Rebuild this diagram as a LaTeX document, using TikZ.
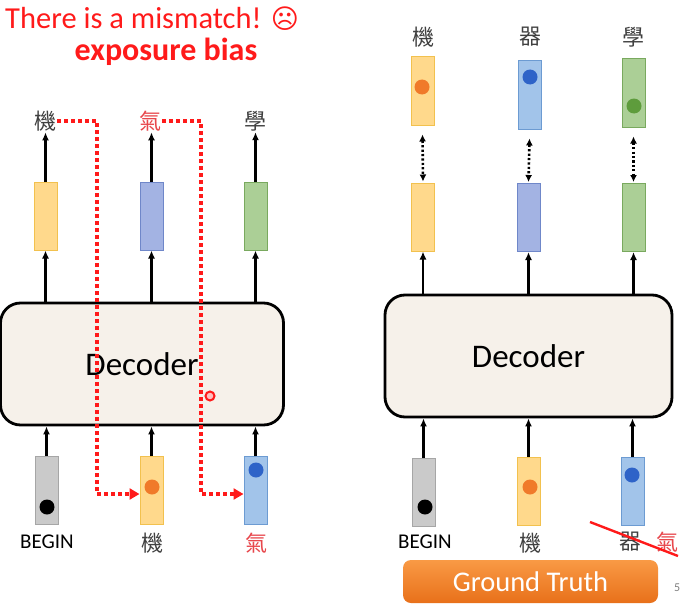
\documentclass[tikz,border=0pt]{standalone}
\usepackage{fontspec}
\setmainfont{Carlito}
\newfontfamily\cjk{Noto Sans CJK TC}
\newfontfamily\djv{DejaVu Sans}
\usetikzlibrary{arrows.meta,shadings}
\definecolor{yfill}{HTML}{FFD98C}
\definecolor{ydraw}{HTML}{F2C14E}
\definecolor{bfill}{HTML}{A3B3E3}
\definecolor{bdraw}{HTML}{6F87C9}
\definecolor{lbfill}{HTML}{A2C4EA}
\definecolor{lbdraw}{HTML}{6C9BD2}
\definecolor{gfill}{HTML}{ABCF96}
\definecolor{gdraw}{HTML}{79A95E}
\definecolor{grfill}{HTML}{CACACA}
\definecolor{grdraw}{HTML}{A6A6A6}
\definecolor{decfill}{HTML}{F6F1EA}
\definecolor{lred}{HTML}{FF1A1A}
\definecolor{cjkred}{HTML}{E8474C}
\definecolor{txtgray}{HTML}{404040}
\definecolor{dotor}{HTML}{F07A2A}
\definecolor{dotbl}{HTML}{2E63C8}
\definecolor{dotgr}{HTML}{5E9C3C}
\definecolor{gttop}{HTML}{F99A45}
\definecolor{gtbot}{HTML}{E8701A}
\tikzset{
  vec/.style={draw, line width=1pt, minimum width=23pt, minimum height=68pt, inner sep=0pt},
  ybox/.style={vec, fill=yfill, draw=ydraw},
  bbox/.style={vec, fill=bfill, draw=bdraw},
  lbbox/.style={vec, fill=lbfill, draw=lbdraw},
  gbox/.style={vec, fill=gfill, draw=gdraw},
  graybox/.style={vec, fill=grfill, draw=grdraw},
  dec/.style={draw=black, line width=2.8pt, fill=decfill, rounded corners=20pt, inner sep=0pt, font=\fontsize{33}{36}\selectfont},
  arr/.style={line width=2.4pt, -{Latex[length=8pt,width=7pt]}},
  dblarr/.style={line width=2.6pt, dash pattern=on 2.2pt off 2.2pt, {Latex[length=7pt,width=7pt]}-{Latex[length=7pt,width=7pt]}},
  reddot/.style={draw=lred, line width=3.6pt, dash pattern=on 3.6pt off 3.4pt, -{Triangle[length=10pt,width=11pt]}},
  zh/.style={font=\cjk\fontsize{22}{24}\selectfont, text=txtgray, inner sep=1pt},
  zhred/.style={zh, text=cjkred},
  beg/.style={font=\fontsize{21}{24}\selectfont, text=black, inner sep=1pt},
  ball/.style={circle, minimum size=15pt, inner sep=0pt},
  gtbox/.style={rounded corners=8pt, top color=gttop, bottom color=gtbot, draw=none, minimum width=255pt, minimum height=43pt, text=white, font=\fontsize{28.5}{32}\selectfont},
}
\begin{document}
\begin{tikzpicture}[x=1pt,y=-1pt]
\useasboundingbox (0,0) rectangle (680,610);
\fill[white] (0,0) rectangle (680,610);

% titles
\node[anchor=west, text=lred, font=\fontsize{30.5}{34}\selectfont, inner sep=0pt] (title) at (5,19) {There is a mismatch! {\djv\fontsize{27}{30}\selectfont ☹}};
\node[text=lred, font=\bfseries\fontsize{32}{34}\selectfont, inner sep=0pt] (bias) at (166,52) {exposure bias};

% ===== LEFT =====
\node[dec, minimum width=283pt, minimum height=122pt] (decL) at (142,364) {Decoder};

\node[ybox] (oL1) at (45.5,216) {};
\node[bbox] (oL2) at (151.5,216) {};
\node[gbox] (oL3) at (255.5,216) {};

\node[zh] (tL1) at (45,121) {機};
\node[zhred] (tL2) at (150,121) {氣};
\node[zh] (tL3) at (255,121) {學};

\node[graybox] (iL1) at (46.5,490.5) {};
\node[ybox] (iL2) at (151.5,490.5) {};
\node[lbbox] (iL3) at (255.5,490.5) {};

\node[ball, fill=black] (kL1) at (47,507) {};
\node[ball, fill=dotor] (kL2) at (152,487) {};
\node[ball, fill=dotbl] (kL3) at (256,470) {};

\node[beg] (bL1) at (47,542) {BEGIN};
\node[zh] (bL2) at (152,543) {機};
\node[zhred] (bL3) at (256,543) {氣};

\foreach \i in {1,2,3}{
  \draw[arr] (oL\i.north) -- (oL\i.north |- tL\i.south);
  \draw[arr] (decL.north -| oL\i.north) -- (oL\i.south);
  \draw[arr] (iL\i.north) -- (decL.south -| iL\i.north);
}

\coordinate (r1) at (97,0);
\coordinate (r2) at (201,0);
\draw[reddot] (tL1.east) -| (r1 |- 0,494) -- (iL2.west |- 0,494);
\draw[reddot] (tL2.east) -| (r2 |- 0,494) -- (iL3.west |- 0,494);

% laser pointer mark
\node[circle, draw=lred, line width=2pt, minimum size=9pt, inner sep=0pt, fill=red!25] (laser) at (210,396) {};

% ===== RIGHT =====
\node[dec, minimum width=287pt, minimum height=122pt] (decR) at (528.5,356) {Decoder};

\node[zh] (tR1) at (423,37) {機};
\node[zh] (tR2) at (530,37) {器};
\node[zh] (tR3) at (633,37) {學};

\node[ybox] (pR1) at (422.5,91) {};
\node[lbbox] (pR2) at (529.5,95) {};
\node[gbox] (pR3) at (633.5,93) {};
\node[ball, fill=dotor] at (422,87) {};
\node[ball, fill=dotbl] at (530,77) {};
\node[ball, fill=dotgr] at (634,106) {};

\node[ybox] (oR1) at (423,217) {};
\node[bbox] (oR2) at (528.5,217.5) {};
\node[gbox] (oR3) at (633.5,217.5) {};

\foreach \i in {1,2,3}{
  \draw[dblarr] ([yshift=-9pt]pR\i.south) -- ([yshift=1pt]oR\i.north);
  \draw[arr] (decR.north -| oR\i.north) -- (oR\i.south);
}

\node[graybox] (iR1) at (423.5,492) {};
\node[ybox] (iR2) at (528.5,491) {};
\node[lbbox] (iR3) at (632.5,491) {};
\node[ball, fill=black] at (425,507) {};
\node[ball, fill=dotor] at (530,487) {};
\node[ball, fill=dotbl] at (632,475) {};

\foreach \i in {1,2,3}{
  \draw[arr] (iR\i.north) -- (decR.south -| iR\i.north);
}

\node[beg] (bR1) at (425,542) {BEGIN};
\node[zh] (bR2) at (530,543) {機};
\node[zh] (bR3) at (630,542) {器};
\node[zhred] (bR4) at (667,542) {氣};
\coordinate (x1) at (590,522);
\coordinate (x2) at (678,556);
\draw[draw=lred, line width=2.4pt] (x1) -- (x2);

\node[gtbox] (gt) at (530.5,581.5) {Ground Truth};
\node[anchor=west, text=gray, font=\fontsize{12}{14}\selectfont, inner sep=0pt] (pg) at (674,588) {5};
\end{tikzpicture}
\end{document}
